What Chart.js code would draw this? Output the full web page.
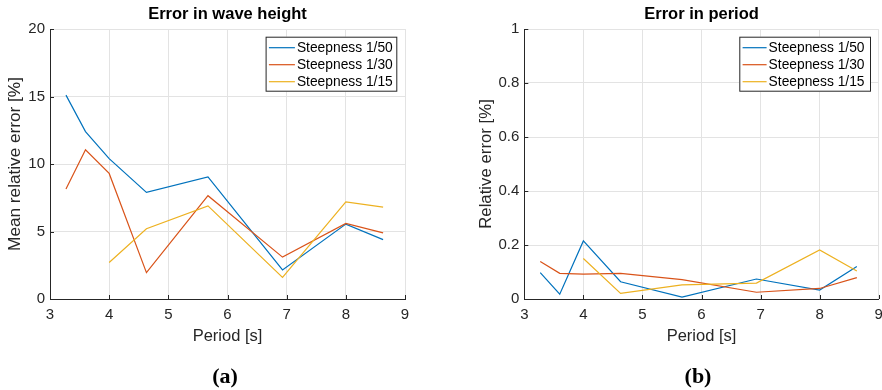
<!DOCTYPE html>
<html>
<head>
<meta charset="utf-8">
<script src="https://cdn.jsdelivr.net/npm/chart.js@4/dist/chart.umd.min.js"></script>
<style>
  body { margin: 0; background: #fff; }
  .panel { position: absolute; top: 0; width: 441px; height: 390px; }
  .tag { position: absolute; top: 363px; font: bold 22px "Liberation Serif", "Times New Roman", serif; color: #000; transform: translateX(-50%); }
</style>
</head>
<body>
<div class="panel" style="left:0"><canvas id="heightChart" width="441" height="390"></canvas></div>
<div class="panel" style="left:441px"><canvas id="periodChart" width="441" height="390"></canvas></div>
<div class="tag" style="left:225px">(a)</div>
<div class="tag" style="left:698px">(b)</div>
<script>
const periods = [3.27, 3.6, 4.0, 4.63, 5.67, 6.93, 8.0, 8.63];
const steepnessLabels = ['Steepness 1/50', 'Steepness 1/30', 'Steepness 1/15'];
const lineColors = ['#0072BD', '#D95319', '#EDB120'];

// mean relative error in wave height [%]
const heightErr50 = [15.1, 12.4, 10.4, 7.9, 9.05, 2.15, 5.55, 4.4];
const heightErr30 = [8.15, 11.05, 9.3, 1.95, 7.65, 3.1, 5.6, 4.9];
const heightErr15 = [null, null, 2.7, 5.2, 6.9, 1.6, 7.2, 6.8];

// relative error in period [%]
const periodErr50 = [0.098, 0.018, 0.215, 0.064, 0.007, 0.074, 0.033, 0.12];
const periodErr30 = [0.139, 0.095, 0.092, 0.095, 0.072, 0.025, 0.039, 0.079];
const periodErr15 = [null, null, 0.15, 0.021, 0.052, 0.059, 0.182, 0.104];

const FONT = '"Liberation Sans", Arial, Helvetica, sans-serif';
const AXIS_COLOR = '#262626';

function toPoints(values) {
  return periods.map((p, i) => ({ x: p, y: values[i] }));
}

function makeDatasets(series) {
  return series.map((vals, i) => ({
    label: steepnessLabels[i],
    data: toPoints(vals),
    borderColor: lineColors[i],
    borderWidth: 1.2,
    pointRadius: 0,
    tension: 0,
    fill: false,
    order: 3 - i
  }));
}

// boxed legend in the upper right corner of the plot area
const boxLegend = {
  id: 'boxLegend',
  afterDraw(chart, args, opts) {
    const ctx = chart.ctx;
    const area = chart.chartArea;
    const w = opts.width, h = 55;
    const left = area.right - 7.7 - w;
    const top = area.top + 7.7;
    ctx.save();
    ctx.fillStyle = '#fff';
    ctx.fillRect(left, top, w, h);
    ctx.strokeStyle = AXIS_COLOR;
    ctx.lineWidth = 1;
    ctx.strokeRect(left + 0.5, top + 0.5, w - 1, h - 1);
    ctx.font = '13.8px ' + FONT;
    ctx.textBaseline = 'middle';
    chart.data.datasets.forEach((ds, i) => {
      const y = top + 11 + i * 17;
      ctx.strokeStyle = ds.borderColor;
      ctx.lineWidth = 1.2;
      ctx.beginPath();
      ctx.moveTo(left + 3.3, y);
      ctx.lineTo(left + opts.lineEnd, y);
      ctx.stroke();
      ctx.fillStyle = '#000';
      ctx.fillText(ds.label, left + opts.lineEnd + 2, y);
    });
    ctx.restore();
  }
};

// short inward tick marks on the left and bottom axes
const innerTicks = {
  id: 'innerTicks',
  afterDraw(chart) {
    const ctx = chart.ctx;
    const area = chart.chartArea;
    const xs = chart.scales.x, ys = chart.scales.y;
    ctx.save();
    ctx.strokeStyle = AXIS_COLOR;
    ctx.lineWidth = 1;
    ctx.beginPath();
    xs.ticks.forEach(t => {
      const px = Math.round(xs.getPixelForValue(t.value)) + 0.5;
      ctx.moveTo(px, area.bottom);
      ctx.lineTo(px, area.bottom - 4);
    });
    ys.ticks.forEach(t => {
      const py = Math.round(ys.getPixelForValue(t.value)) + 0.5;
      ctx.moveTo(area.left, py);
      ctx.lineTo(area.left + 4, py);
    });
    ctx.stroke();
    ctx.restore();
  }
};

function buildChart(canvasId, cfg) {
  return new Chart(document.getElementById(canvasId), {
    type: 'line',
    data: { datasets: makeDatasets(cfg.series) },
    options: {
      responsive: false,
      animation: false,
      devicePixelRatio: 1,
      layout: { padding: { left: cfg.padLeft, right: cfg.padRight, top: 0, bottom: 43.4 } },
      plugins: {
        legend: { display: false },
        tooltip: { enabled: false },
        title: {
          display: true,
          text: cfg.title,
          color: '#000',
          fullSize: false,
          font: { family: FONT, size: 16.5, weight: 'bold', lineHeight: 1.2 },
          padding: { top: 5, bottom: 4.2 }
        },
        boxLegend: { width: 131.7, lineEnd: cfg.lineEnd }
      },
      scales: {
        x: {
          type: 'linear',
          min: 3,
          max: 9,
          ticks: { stepSize: 1, padding: 7, color: AXIS_COLOR, font: { family: FONT, size: 15 } },
          grid: { color: '#e3e3e3', lineWidth: 1, drawTicks: false },
          border: { color: AXIS_COLOR, width: 1 },
          title: { display: true, text: 'Period [s]', color: AXIS_COLOR, padding: 0,
                   font: { family: FONT, size: 16.5, lineHeight: 1.2 } },
          afterFit(scale) { scale.height = 47.6; scale.paddingLeft = 0; scale.paddingRight = 0; }
        },
        y: {
          min: 0,
          max: cfg.yMax,
          ticks: {
            stepSize: cfg.yStep, padding: 5, color: AXIS_COLOR, font: { family: FONT, size: 15 },
            callback: v => String(+v.toFixed(2))
          },
          grid: { color: '#e3e3e3', lineWidth: 1, drawTicks: false },
          border: { color: AXIS_COLOR, width: 1 },
          title: { display: true, text: cfg.yTitle, color: AXIS_COLOR, padding: 0,
                   font: { family: FONT, size: cfg.yTitleSize, lineHeight: 1.2 } },
          afterFit(scale) { scale.width = cfg.yWidth; }
        }
      }
    },
    plugins: [innerTicks, boxLegend]
  });
}

buildChart('heightChart', {
  series: [heightErr50, heightErr30, heightErr15],
  title: 'Error in wave height',
  yTitle: 'Mean relative error [%]',
  yTitleSize: 17.2,
  yMax: 20, yStep: 5,
  padLeft: 5, yWidth: 45, padRight: 36,
  lineEnd: 29.3
});

buildChart('periodChart', {
  series: [periodErr50, periodErr30, periodErr15],
  title: 'Error in period',
  yTitle: 'Relative error [%]',
  yTitleSize: 16.8,
  yMax: 1, yStep: 0.2,
  padLeft: 35, yWidth: 48.3, padRight: 3.3,
  lineEnd: 27.3
});
</script>
</body>
</html>
